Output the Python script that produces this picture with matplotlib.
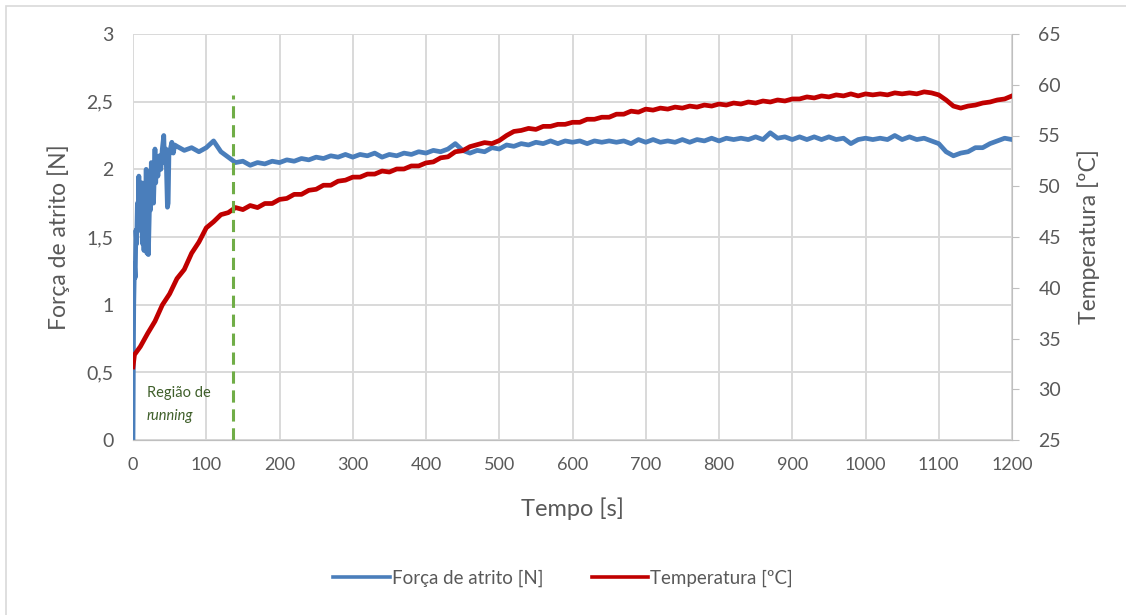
import matplotlib
matplotlib.use("Agg")
import matplotlib.pyplot as plt
from matplotlib.patches import Rectangle

# --- data ---
time_force = [0, 0.5, 1, 2, 3, 4, 5, 6, 7, 8, 9, 10, 11, 12, 13, 14, 15, 16, 17, 18, 19,
              20, 21, 22, 23, 24, 25, 26, 27, 28, 30, 31, 32, 34, 36, 38, 40, 42, 43, 45,
              47, 48, 49, 51, 53, 55, 57,
              60, 70, 80, 90, 100, 110, 120, 130, 140, 150, 160, 170, 180, 190, 200,
              210, 220, 230, 240, 250, 260, 270, 280, 290, 300, 310, 320, 330, 340, 350,
              360, 370, 380, 390, 400, 410, 420, 430, 440, 450, 460, 470, 480, 490, 500,
              510, 520, 530, 540, 550, 560, 570, 580, 590, 600, 610, 620, 630, 640, 650,
              660, 670, 680, 690, 700, 710, 720, 730, 740, 750, 760, 770, 780, 790, 800,
              810, 820, 830, 840, 850, 860, 870, 880, 890, 900, 910, 920, 930, 940, 950,
              960, 970, 980, 990, 1000, 1010, 1020, 1030, 1040, 1050, 1060, 1070, 1080,
              1090, 1100, 1110, 1120, 1130, 1140, 1150, 1160, 1170, 1180, 1190, 1200]
force = [0.0, 0.6, 1.0, 1.3, 1.2, 1.55, 1.45, 1.75, 1.6, 1.95, 1.55, 1.8, 1.6, 1.9, 1.45,
         1.7, 1.4, 1.9, 1.5, 2.0, 1.38, 1.5, 1.37, 1.6, 1.85, 1.7, 2.05, 1.85, 1.95, 1.75,
         2.15, 1.9, 2.05, 1.95, 2.1, 2.0, 2.15, 2.25, 2.05, 2.15, 1.72, 1.75, 2.1, 2.15,
         2.2, 2.12, 2.18,
         2.17, 2.14, 2.16, 2.13, 2.16, 2.21, 2.13, 2.09, 2.05, 2.06, 2.03, 2.05, 2.04, 2.06,
         2.05, 2.07, 2.06, 2.08, 2.07, 2.09, 2.08, 2.10, 2.09, 2.11, 2.09, 2.11, 2.10, 2.12,
         2.09, 2.11, 2.10, 2.12, 2.11, 2.13, 2.12, 2.14, 2.13, 2.15, 2.19, 2.14, 2.12, 2.14,
         2.13, 2.16, 2.15, 2.18, 2.17, 2.19, 2.18, 2.20, 2.19, 2.21, 2.19, 2.21, 2.20, 2.21,
         2.19, 2.21, 2.20, 2.21, 2.20, 2.21, 2.19, 2.22, 2.20, 2.22, 2.20, 2.21, 2.20, 2.22,
         2.20, 2.22, 2.21, 2.23, 2.21, 2.23, 2.22, 2.23, 2.22, 2.24, 2.22, 2.27, 2.23, 2.24,
         2.22, 2.24, 2.22, 2.24, 2.22, 2.24, 2.22, 2.23, 2.19, 2.22, 2.23, 2.22, 2.23, 2.22,
         2.25, 2.22, 2.24, 2.22, 2.23, 2.21, 2.19, 2.13, 2.10, 2.12, 2.13, 2.16, 2.16, 2.19,
         2.21, 2.23, 2.22]

time_temp = [0, 2] + list(range(10, 1201, 10))
temperature = [32.2, 33.4,
               34.2, 35.5, 36.7, 38.3, 39.4, 40.9, 41.8, 43.4, 44.5, 45.9,
               46.5, 47.2, 47.4, 47.9, 47.7, 48.1, 47.9, 48.3, 48.3, 48.7,
               48.8, 49.2, 49.2, 49.6, 49.7, 50.1, 50.1, 50.5, 50.6, 50.9,
               50.9, 51.2, 51.2, 51.5, 51.4, 51.7, 51.7, 52.0, 52.0, 52.3,
               52.4, 52.8, 52.9, 53.4, 53.5, 53.9, 54.1, 54.3, 54.2, 54.5,
               55.0, 55.4, 55.5, 55.7, 55.6, 55.9, 55.9, 56.1, 56.1, 56.3,
               56.3, 56.6, 56.6, 56.8, 56.8, 57.1, 57.1, 57.4, 57.3, 57.6,
               57.5, 57.7, 57.6, 57.8, 57.7, 57.9, 57.8, 58.0, 57.9, 58.1,
               58.0, 58.2, 58.1, 58.3, 58.2, 58.4, 58.3, 58.5, 58.4, 58.6,
               58.6, 58.8, 58.7, 58.9, 58.8, 59.0, 58.9, 59.1, 58.9, 59.1,
               59.0, 59.1, 59.0, 59.2, 59.1, 59.2, 59.1, 59.3, 59.2, 59.0,
               58.5, 57.9, 57.7, 57.9, 58.0, 58.2, 58.3, 58.5, 58.6, 58.9]

running_end = 136.5
x_ticks = list(range(0, 1201, 100))
force_ticks = [0, 0.5, 1, 1.5, 2, 2.5, 3]
temp_ticks = list(range(25, 66, 5))

BLUE = "#4a7ebb"
RED = "#c00000"
GREEN = "#70ad47"
GRID = "#d9d9d9"
TXT = "#595959"

plt.rcParams["font.family"] = ["Lato", "DejaVu Sans"]

fig = plt.figure(figsize=(11.26, 6.15), dpi=100)
fig.subplots_adjust(left=133 / 1126, right=1012 / 1126, top=1 - 34 / 615, bottom=1 - 440 / 615)
ax = fig.add_subplot(111)
ax2 = ax.twinx()

line_f, = ax.plot(time_force, force, color=BLUE, lw=3.4, solid_joinstyle="round")
line_t, = ax2.plot(time_temp, temperature, color=RED, lw=3.4, solid_joinstyle="round")

# running-in limit and note
ax2.plot([running_end, running_end], [0, 2.55], transform=ax.transData,
         color=GREEN, lw=2.2, dashes=(4, 2.2))
ax2.text(19, 0.35, "Região de", transform=ax.transData, fontsize=10.5,
         color="#3f5f2a", va="center")
ax2.text(19, 0.18, "running", transform=ax.transData, fontsize=10.5,
         color="#3f5f2a", va="center", style="italic")

ax.set_xlim(0, 1200)
ax.set_ylim(0, 3)
ax2.set_ylim(25, 65)
ax.set_xticks(x_ticks)
ax.set_yticks(force_ticks)
ax.set_yticklabels([("%g" % v).replace(".", ",") for v in force_ticks])
ax2.set_yticks(temp_ticks)
ax.set_xticklabels([str(v) for v in x_ticks],
                   family=["Liberation Sans Narrow", "Lato"], fontsize=13)

ax.grid(True, color=GRID, lw=1.4)
ax.set_axisbelow(True)
for a in (ax, ax2):
    for s in ("top", "left"):
        a.spines[s].set_visible(False)
    a.spines["bottom"].set_color("#bfbfbf")
    a.spines["right"].set_color("#bfbfbf")
ax2.spines["right"].set_visible(True)
ax.spines["right"].set_visible(False)

ax.tick_params(axis="y", length=0, labelsize=14, labelcolor=TXT, pad=14)
ax.tick_params(axis="x", length=0, labelcolor=TXT, pad=12)
ax2.tick_params(axis="y", length=5, color="#bfbfbf", labelsize=14, labelcolor=TXT, pad=14)

ax.set_xlabel("Tempo [s]", fontsize=17, color=TXT)
ax.xaxis.set_label_coords(0.5, -(497 - 440) / 406)
ax.set_ylabel("Força de atrito [N]", fontsize=16.5, color=TXT)
ax.yaxis.set_label_coords((70 - 133) / 879, 0.5)
ax2.set_ylabel("Temperatura [ºC]", fontsize=16.5, color=TXT)
ax2.yaxis.set_label_coords((1077 - 133) / 879, 0.5)

fig.legend([line_f, line_t], ["Força de atrito [N]", "Temperatura [ºC]"],
           loc="center", bbox_to_anchor=(0.5, 1 - 578 / 615), ncol=2, frameon=False,
           fontsize=13.5, labelcolor=TXT, handlelength=3.0, handletextpad=0.1,
           columnspacing=2.6, handleheight=0.7)
for h in fig.legends[0].get_lines():
    h.set_linewidth(2.6)

fig.patches.append(Rectangle((6 / 1126, -0.05), 1.1, 1 - 6 / 615 + 0.05,
                             transform=fig.transFigure, fill=False,
                             edgecolor=GRID, lw=1.2))

fig.savefig("out.png", dpi=100)
